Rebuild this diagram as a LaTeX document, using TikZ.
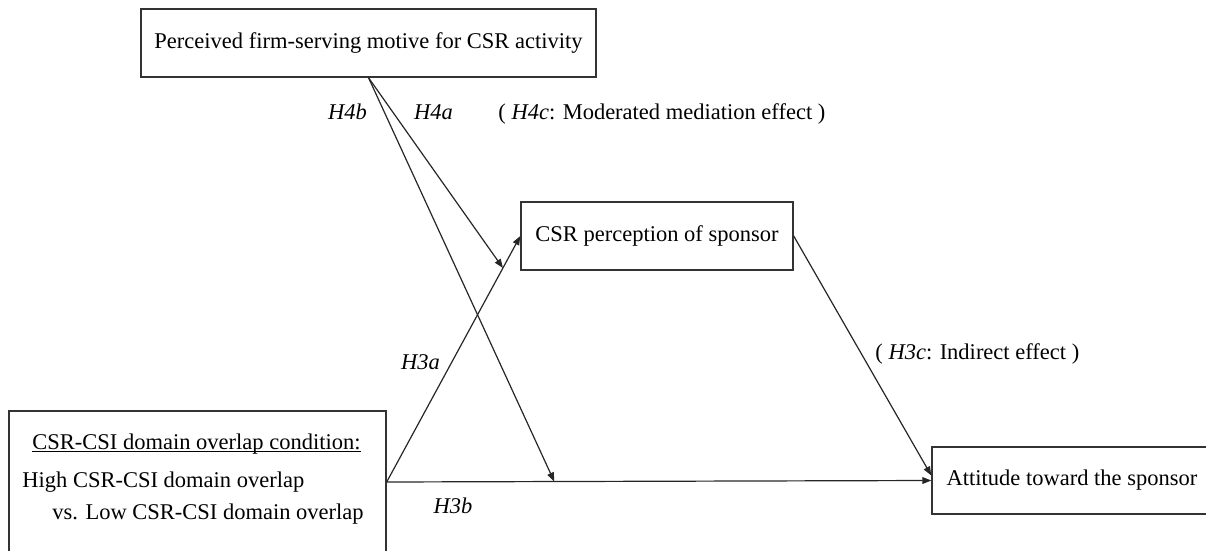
\documentclass[tikz,border=0pt]{standalone}
\usepackage{fontspec}
\setmainfont{Liberation Serif}
\usetikzlibrary{arrows.meta,calc}
\begin{document}
\begin{tikzpicture}[x=0.5pt,y=-0.5pt,
  every node/.style={font=\fontsize{11.25pt}{13.5pt}\selectfont, text=black},
  box/.style={draw=black!80, line width=0.7pt, rectangle, inner sep=0pt},
  txt/.style={inner sep=0pt},
  link/.style={draw=black!85, line width=0.6pt, -{Triangle[length=4.5pt,width=3.4pt]}}]
\useasboundingbox (0,0) rectangle (1206,551);
\clip (0,0) rectangle (1206,551);
% boxes
\node[box, minimum width=227.5pt, minimum height=34pt] (motive) at (368.5,43) {Perceived firm-serving motive for CSR activity};
\node[box, minimum width=136pt, minimum height=34pt] (csr) at (657,236) {CSR perception of sponsor};
\node[box, minimum width=140pt, minimum height=33.5pt] (att) at (1072,480.5) {Attitude toward the sponsor};
\node[box, minimum width=188.5pt, minimum height=71pt] (cond) at (197.5,482) {};
% texts inside the condition box
\node[txt, anchor=base west] (c1) at (32,449) {CSR-CSI domain overlap condition:};
\draw[line width=0.5pt] ([yshift=-1.2pt]c1.base west) -- ([yshift=-1.2pt]c1.base east);
\node[txt, anchor=base west] (c2) at (22,487) {High CSR-CSI domain overlap};
\node[txt, anchor=base west] (c3) at (52,519) {vs. Low CSR-CSI domain overlap};
% connectors
\draw[link] (cond.east) -- (csr.west);
\draw[link] (cond.east) -- (att.west);
\draw[link] (csr.east) -- ([yshift=2.5pt]att.west);
\coordinate (p4a) at ($(cond.east)!0.87!(csr.west)$);
\coordinate (p4b) at ($(cond.east)!0.3077!(att.west)$);
\draw[link] (motive.south) -- (p4a);
\draw[link] (motive.south) -- (p4b);
% labels
\node[txt, anchor=base] (h4b) at (347.5,119.5) {\textit{H4b}};
\node[txt, anchor=base] (h4a) at (433.5,119.5) {\textit{H4a}};
\node[txt, anchor=base west] (h4c) at (498,120) {( \textit{H4c}: Moderated mediation effect )};
\node[txt, anchor=base] (h3a) at (420.5,369.5) {\textit{H3a}};
\node[txt, anchor=base] (h3b) at (453,513.5) {\textit{H3b}};
\node[txt, anchor=base west] (h3c) at (875,359.5) {( \textit{H3c}: Indirect effect )};
\end{tikzpicture}
\end{document}
